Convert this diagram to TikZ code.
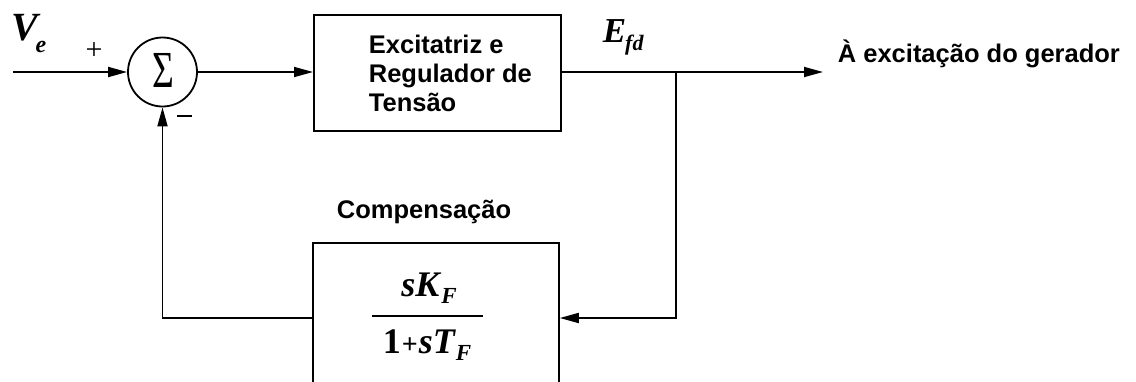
\documentclass[tikz,border=0pt]{standalone}
\usepackage{fontspec}
\setmainfont{Liberation Sans}
\newfontfamily\tms{Liberation Serif}
\usetikzlibrary{arrows.meta}
\newcommand{\subF}[1]{\raisebox{-7pt}{\fontsize{23}{23}\selectfont #1}}
\begin{document}
\begin{tikzpicture}[x=1pt,y=-1pt,
  line width=1.8pt,
  arr/.style={-{Triangle[length=19pt,width=10pt]}},
  lbl/.style={font=\fontsize{25.5}{29}\selectfont\bfseries,align=left,inner sep=0pt},
  mth/.style={font=\fontsize{36}{36}\selectfont\tms\bfseries\itshape,inner sep=0pt}]
\useasboundingbox (0,0) rectangle (1136,381);
\begin{scope}
\clip (0,0) rectangle (1136,381);
% blocks
\node[draw,minimum width=247pt,minimum height=116pt,inner sep=0pt,anchor=north west] (exc) at (313,14) {};
\node[lbl,anchor=west] (exctxt) at (368,73) {Excitatriz e\\Regulador de\\Tensão};
\node[draw,minimum width=246pt,minimum height=150pt,inner sep=0pt,anchor=north west] (comp) at (312,242) {};
\node[circle,draw,minimum size=69pt,inner sep=0pt] (sum) at (162.5,72) {};
\node[font=\fontsize{52}{52}\selectfont\tms,inner sep=0pt] (sig) at (163.5,70) {\scalebox{0.72}[1]{Σ}};
% fraction
\node[mth,anchor=base] (num) at (429,296) {sK\kern2pt\subF{F}};
\node[mth,anchor=base] (den) at (427,353) {{\upshape 1}\kern1pt{\upshape\fontsize{28}{28}\selectfont +}\kern1pt sT\kern1pt\subF{F}};
\coordinate (fbl) at (372,316);
\coordinate (fbr) at (483,316);
\draw (fbl) -- (fbr);
% labels
\node[font=\fontsize{40}{40}\selectfont\tms\bfseries\itshape,inner sep=0pt,anchor=base west] (ve) at (11,40) {V\kern-3pt\raisebox{-12pt}{\fontsize{24}{24}\selectfont e}};
\node[font=\fontsize{35}{35}\selectfont\tms\bfseries\itshape,inner sep=0pt,anchor=base west] (efd) at (602,42) {E\kern-1pt\raisebox{-8pt}{\fontsize{22}{22}\selectfont fd}};
\node[font=\fontsize{30}{30}\selectfont\tms,inner sep=0pt] (plus) at (94,51) {+};
\node[inner sep=0pt] (minus) at (184,116) {\rule{15pt}{1.2pt}};
\node[lbl,anchor=west] (out) at (837,54) {À excitação do gerador};
\node[lbl] (comptxt) at (424,212) {Compensação};
% connectors
\coordinate (in) at (13,72);
\coordinate (br) at (676,72);
\coordinate (tip) at (823,72);
\draw[arr] (in) -- (sum.west);
\draw[arr] (sum.east) -- (sum.east -| exc.west);
\draw (exc.east |- br) -- (br);
\draw[arr] (br) -- (tip);
\draw[arr] (br) |- (comp.east |- 0,318);
\draw[arr] (comp.west |- 0,318) -| (sum.south);
\end{scope}
\end{tikzpicture}
\end{document}
